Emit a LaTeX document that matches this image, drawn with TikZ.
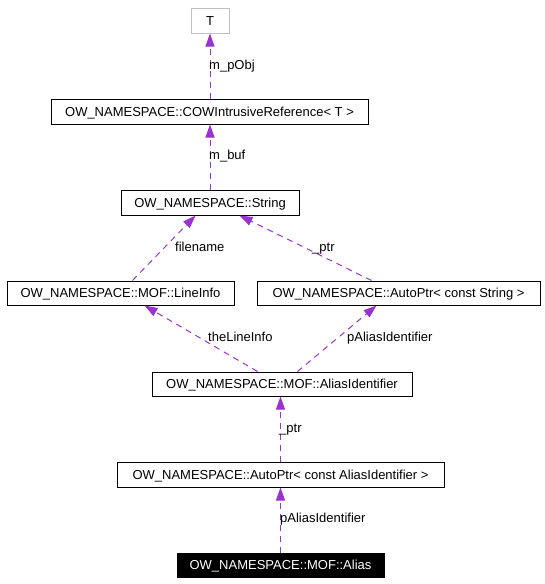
\documentclass[tikz,border=0pt]{standalone}
\usepackage{fontspec}
\setmainfont{Liberation Sans}
\usetikzlibrary{arrows.meta,calc}
\definecolor{edgec}{HTML}{9A32CD}
\definecolor{greyc}{HTML}{BFBFBF}
\begin{document}
\begin{tikzpicture}[x=1pt,y=-1pt,
  font=\fontsize{13}{15}\selectfont,
  box/.style={draw=black,line width=1pt,inner sep=0pt,minimum height=25pt,text height=9.4pt,text depth=0pt},
  greybox/.style={box,draw=greyc},
  blackbox/.style={box,fill=black,text=white},
  usage/.style={draw=edgec,line width=1pt,dash pattern=on 6pt off 5pt,-{Triangle[length=13pt,width=9pt]}},
  lbl/.style={anchor=west,inner sep=0pt,text=black,text height=9.4pt,text depth=0pt}]
\useasboundingbox (0,0) rectangle (544,584);
% nodes
\node[greybox,minimum width=38pt] (t) at (210,20.5) {T};
\node[box,minimum width=317pt] (cow) at (209.5,111.5) {OW\_NAMESPACE::COWIntrusiveReference< T >};
\node[box,minimum width=178pt] (str) at (210,202.5) {OW\_NAMESPACE::String};
\node[box,minimum width=227pt,minimum height=24pt] (li) at (120.5,293) {OW\_NAMESPACE::MOF::LineInfo};
\node[box,minimum width=283pt,minimum height=24pt] (aps) at (398.5,293) {OW\_NAMESPACE::AutoPtr< const String >};
\node[box,minimum width=260pt,minimum height=24pt] (ai) at (282,384) {OW\_NAMESPACE::MOF::AliasIdentifier};
\node[box,minimum width=327pt] (apa) at (280.5,474.5) {OW\_NAMESPACE::AutoPtr< const AliasIdentifier >};
\node[blackbox,minimum width=207pt,minimum height=24pt] (alias) at (280.5,565) {OW\_NAMESPACE::MOF::Alias};
% edges
\draw[usage] (cow.north -| t.south) -- (t.south);
\draw[usage] (str.north) -- (str.north |- cow.south);
\draw[usage] ($(li.north west)+(126,0)$) -- ($(str.south west)+(75,0)$);
\draw[usage] ($(aps.north west)+(115,0)$) -- ($(str.south west)+(119,0)$);
\draw[usage] ($(ai.north west)+(106,0)$) -- ($(li.south west)+(138,0)$);
\draw[usage] ($(ai.north west)+(146,0)$) -- ($(aps.south west)+(120,0)$);
\draw[usage] (apa.north) -- (apa.north |- ai.south);
\draw[usage] (alias.north) -- (alias.north |- apa.south);
% labels
\node[lbl] (l1) at (209,65) {m\_pObj};
\node[lbl] (l2) at (209,155) {m\_buf};
\node[lbl] (l3) at (175,247) {filename};
\node[lbl] (l4) at (312,247) {\_ptr};
\node[lbl] (l5) at (208,337) {theLineInfo};
\node[lbl] (l6) at (347,337) {pAliasIdentifier};
\node[lbl] (l7) at (279,428) {\_ptr};
\node[lbl] (l8) at (280,518) {pAliasIdentifier};
\end{tikzpicture}
\end{document}
